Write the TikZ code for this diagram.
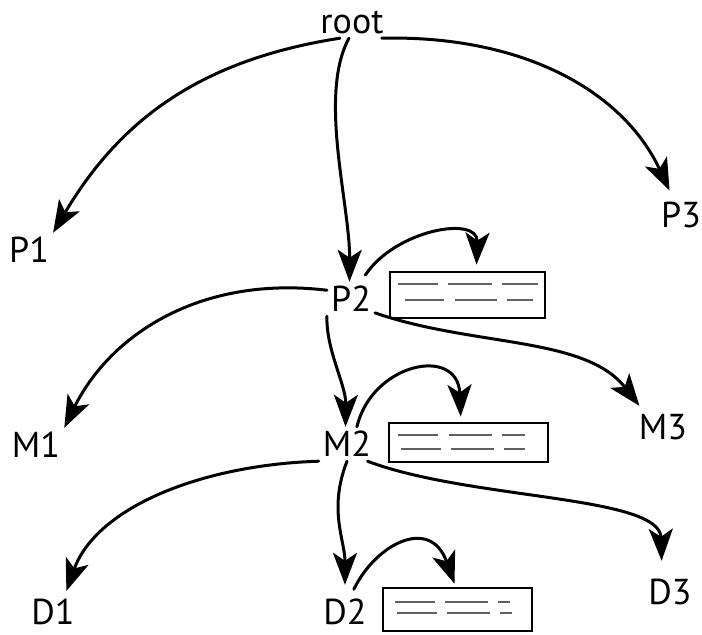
\documentclass[tikz,border=0pt]{standalone}
\usepackage{fontspec}
\setmainfont{PT Sans}
\usetikzlibrary{arrows.meta}
\begin{document}
\begin{tikzpicture}[x=1pt,y=1pt,
  lbl/.style={font=\fontsize{36}{40}\selectfont, inner sep=4pt, text height=26pt, text depth=0pt},
  arr/.style={line width=3pt, line cap=round, -{Stealth[length=32pt,width=24pt,inset=8pt]}},
  tbox/.style={draw, line width=2.8pt, inner sep=0pt},
  dl/.style={line width=1.8pt, black!62}]
\useasboundingbox (0,0) rectangle (702,635);
% labels
\node[lbl] (root) at (352,614) {root};
\node[lbl] (P1) at (29,385) {P1};
\node[lbl] (P2) at (351,336) {P2};
\node[lbl] (P3) at (681,420) {P3};
\node[lbl] (M1) at (36,190) {M1};
\node[lbl] (M2) at (347,191) {M2};
\node[lbl] (M3) at (663,208) {M3};
\node[lbl] (D1) at (53,23) {D1};
\node[lbl] (D2) at (345,23) {D2};
\node[lbl] (D3) at (670,43) {D3};
% boxes
\node[tbox, minimum width=155pt, minimum height=46pt] (b1) at (467.5,340) {};
\node[tbox, minimum width=159pt, minimum height=39pt] (b2) at (468.5,192.5) {};
\node[tbox, minimum width=149pt, minimum height=43pt] (b3) at (457.5,25.5) {};
% box contents
\draw[dl] (398,351) -- (438,351) (448,351) -- (492,351) (502,351) -- (538,351);
\draw[dl] (405,335) -- (444,335) (455,335) -- (497,335) (507,335) -- (533,335);
\draw[dl] (398,200) -- (438,200) (449,200) -- (492,200) (502,200) -- (525,200);
\draw[dl] (401,186) -- (441,186) (451,186) -- (494,186) (504,186) -- (525,186);
\draw[dl] (395,33) -- (435,33) (445,33) -- (488,33) (498,33) -- (510,33);
\draw[dl] (397,22) -- (437,22) (447,22) -- (490,22) (500,22) -- (512,22);
% connectors
\draw[arr] (root.235) .. controls (200,575) and (120,515) .. (P1.north east);
\draw[arr] (root.260) .. controls (318,540) and (350,430) .. (P2.95);
\draw[arr, shorten >=8pt] (root.330) .. controls (520,600) and (622,546) .. (P3.115);
\draw[arr, shorten <=8pt, shorten >=6pt] (P2.60) .. controls (395,405) and (478,420) .. (b1.70);
\draw[arr] (P2.160) .. controls (200,360) and (110,300) .. (M1.north east);
\draw[arr] (P2.south west) .. controls (326,285) and (346,250) .. (M2.95);
\draw[arr, shorten >=5pt] (P2.330) .. controls (474,288) and (585,299) .. (M3.140);
\draw[arr, shorten >=5pt] (M2.60) .. controls (372,272) and (458,290) .. (b2.110);
\draw[arr, shorten >=4pt] (M2.south west) .. controls (200,170) and (96,127) .. (D1.55);
\draw[arr, shorten >=10pt] (M2.270) .. controls (328,125) and (345,95) .. (D2.north);
\draw[arr, shorten >=14pt] (M2.320) .. controls (470,135) and (660,140) .. (D3.115);
\draw[arr, shorten <=6pt, shorten >=3pt] (D2.70) .. controls (375,90) and (430,120) .. (b3.95);
\end{tikzpicture}
\end{document}
